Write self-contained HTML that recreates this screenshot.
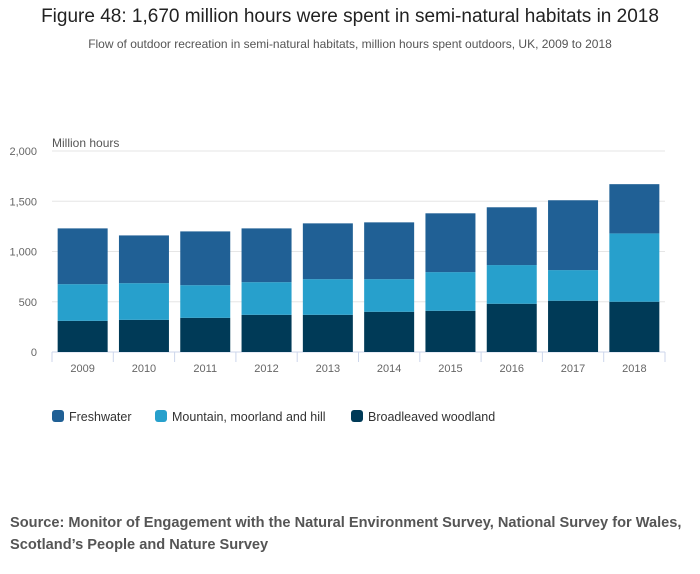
<!DOCTYPE html>
<html><head><meta charset="utf-8"><style>
body{margin:0;width:700px;height:574px;background:#fff;font-family:"Liberation Sans",sans-serif;overflow:hidden;position:relative}
#title{position:absolute;top:6px;left:0;width:700px;text-align:center;font-size:19px;color:#222}
#sub{position:absolute;top:37px;left:0;width:700px;text-align:center;font-size:12px;color:#555}
#src{position:absolute;left:10px;top:512px;font-size:14.6px;font-weight:bold;color:#555;line-height:22px}
svg{position:absolute;left:0;top:0}
</style></head><body>
<div id="title">Figure 48: 1,670 million hours were spent in semi-natural habitats in 2018</div>
<div id="sub">Flow of outdoor recreation in semi-natural habitats, million hours spent outdoors, UK, 2009 to 2018</div>
<svg id="chart" width="700" height="574"></svg>
<div id="src">Source: Monitor of Engagement with the Natural Environment Survey, National Survey for Wales,<br>Scotland’s People and Nature Survey</div>
<script>
const categories=["2009","2010","2011","2012","2013","2014","2015","2016","2017","2018"];
const broadleaved=[310,320,340,370,370,400,410,480,510,500];
const mountain=[365,365,325,325,355,325,385,385,305,680];
const freshwater=[555,475,535,535,555,565,585,575,695,490];
const yTicks=[0,500,1000,1500,2000];
const yTickLabels=["0","500","1,000","1,500","2,000"];
const svg=document.getElementById('chart');
const NS='http://www.w3.org/2000/svg';
const x0=52,x1=665,y0=352,y1=151,yMax=2000;
const band=(x1-x0)/categories.length,bw=50;
const y=v=>y0-(v/yMax)*(y0-y1);
const xc=i=>x0+band*(i+0.5);
function mk(t,a,txt){const e=document.createElementNS(NS,t);for(const k in a)e.setAttribute(k,a[k]);if(txt!==undefined)e.textContent=txt;svg.appendChild(e);return e;}
yTicks.forEach((v,i)=>{
 const g=mk('line',{x1:x0,x2:x1,y1:y(v),y2:y(v),stroke:v===0?'#ccd6eb':'#e6e6e6','stroke-width':1});
 
 
 const t=mk('text',{x:37,y:y(v)+4,'text-anchor':'end','font-size':11,fill:'#666'},yTickLabels[i]);
 
 
});
const yt=mk('text',{x:52,y:147,'font-size':12,fill:'#555'},'Million hours');


const series=[[broadleaved,'#003a57','broadleaved'],[mountain,'#27a0cc','mountain'],[freshwater,'#206095','freshwater']];
categories.forEach((c,i)=>{
 let base=0;
 series.forEach(([arr,col,nm])=>{
  const r=mk('rect',{x:xc(i)-bw/2,y:y(base+arr[i]),width:bw,height:y(base)-y(base+arr[i]),fill:col});
  
  
  base+=arr[i];
 });
 const tk=mk('line',{x1:x0+band*i,x2:x0+band*i,y1:y0,y2:y0+10,stroke:'#ccd6eb'});
 
 
 const t=mk('text',{x:xc(i),y:372,'text-anchor':'middle','font-size':11,fill:'#666'},c);
 
 
});
const tkl=mk('line',{x1:x1,x2:x1,y1:y0,y2:y0+10,stroke:'#ccd6eb'});


const legend=[['Freshwater','#206095',52],['Mountain, moorland and hill','#27a0cc',155],['Broadleaved woodland','#003a57',351]];
legend.forEach(([lab,col,lx])=>{
 const r=mk('rect',{x:lx,y:410,width:12,height:12,rx:3,fill:col});
 
 
 const t=mk('text',{x:lx+17,y:421,'font-size':12.5,fill:'#333'},lab);
 
 
});
</script>
</body></html>
